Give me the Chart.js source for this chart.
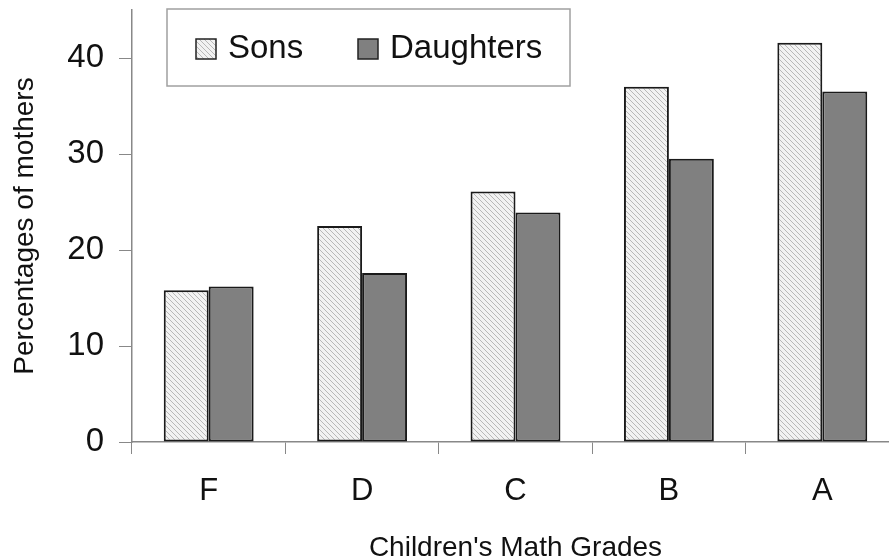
<!DOCTYPE html>
<html>
<head>
<meta charset="utf-8">
<script src="https://cdn.jsdelivr.net/npm/chart.js@4"></script>
<style>
  html, body { margin: 0; padding: 0; overflow: hidden; background: #fff; }
  #wrap { position: absolute; left: 0; top: 0; width: 900px; height: 560px; }
</style>
</head>
<body>
<div id="wrap"><canvas id="myChart"></canvas></div>
<script>
const grades = ['F', 'D', 'C', 'B', 'A'];
const sons = [15.8, 22.5, 26.1, 37.0, 41.6];
const daughters = [16.2, 17.6, 23.9, 29.5, 36.5];
const yTicks = [0, 10, 20, 30, 40];

const font = "'Liberation Sans', Arial, sans-serif";

// diagonal hatch for the Sons bars
function hatch() {
    const c = document.createElement('canvas');
    c.width = 5; c.height = 5;
    const g = c.getContext('2d');
    g.fillStyle = '#f2f2f2';
    g.fillRect(0, 0, 5, 5);
    g.strokeStyle = '#b8b8b8';
    g.lineWidth = 1;
    g.beginPath();
    g.moveTo(-1, -1); g.lineTo(6, 6);
    g.moveTo(-1, 4); g.lineTo(1, 6);
    g.moveTo(4, -1); g.lineTo(6, 1);
    g.stroke();
    return g.createPattern(c, 'repeat');
}

const boxLegend = {
    id: 'boxLegend',
    afterDraw(chart) {
        const ctx = chart.ctx;
        const a = chart.chartArea;
        const x0 = a.left + 35, y0 = a.top - 1;
        ctx.save();
        ctx.fillStyle = '#fff';
        ctx.fillRect(x0, y0, 403, 77);
        ctx.strokeStyle = '#a0a0a0';
        ctx.lineWidth = 1.5;
        ctx.strokeRect(x0, y0, 403, 77);
        ctx.font = '33px ' + font;
        ctx.textBaseline = 'middle';
        const offs = [29, 191];
        chart.data.datasets.forEach((ds, i) => {
            const sx = x0 + offs[i];
            ctx.fillStyle = ds.backgroundColor;
            ctx.fillRect(sx, y0 + 30, 20, 20);
            ctx.strokeStyle = '#222';
            ctx.lineWidth = 1.5;
            ctx.strokeRect(sx, y0 + 30, 20, 20);
            ctx.fillStyle = '#111';
            ctx.fillText(ds.label, sx + 32, y0 + 40);
        });
        ctx.restore();
    }
};

new Chart(document.getElementById('myChart'), {
    type: 'bar',
    data: {
        labels: grades,
        datasets: [{
            label: 'Sons',
            data: sons,
            backgroundColor: hatch(),
            borderColor: '#1a1a1a',
            borderWidth: 2,
            borderSkipped: false,
            categoryPercentage: 0.586,
            barPercentage: 1
        }, {
            label: 'Daughters',
            data: daughters,
            backgroundColor: '#808080',
            borderColor: '#1a1a1a',
            borderWidth: 2,
            borderSkipped: false,
            categoryPercentage: 0.586,
            barPercentage: 1
        }]
    },
    options: {
        responsive: true,
        maintainAspectRatio: false,
        animation: false,
        layout: { padding: { top: 10, right: 1, left: 0, bottom: 0 } },
        plugins: {
            legend: { display: false },
            tooltip: { enabled: false }
        },
        scales: {
            x: {
                grid: { drawOnChartArea: false, color: '#888', tickLength: 12, offset: true },
                border: { color: '#888', width: 1.5 },
                ticks: { color: '#111', font: { family: font, size: 31 }, padding: 19 },
                title: {
                    display: true,
                    text: "Children's Math Grades",
                    color: '#111',
                    font: { family: font, size: 28 },
                    padding: { top: 10, bottom: -5 }
                },
                afterFit(s) { s.height = 118; s.paddingLeft = 0; s.paddingRight = 0; }
            },
            y: {
                min: 0,
                max: 45,
                afterBuildTicks(s) { s.ticks = yTicks.map(v => ({ value: v })); },
                grid: { drawOnChartArea: false, color: '#888', tickLength: 13 },
                border: { color: '#888', width: 1.5 },
                ticks: { color: '#111', font: { family: font, size: 33 }, padding: 15 },
                title: {
                    display: true,
                    text: 'Percentages of mothers',
                    color: '#111',
                    font: { family: font, size: 28 },
                    padding: { top: 8, bottom: 6 }
                },
                afterFit(s) { s.width = 132; s.paddingTop = 0; s.paddingBottom = 0; }
            }
        }
    },
    plugins: [boxLegend]
});
</script>
</body>
</html>
